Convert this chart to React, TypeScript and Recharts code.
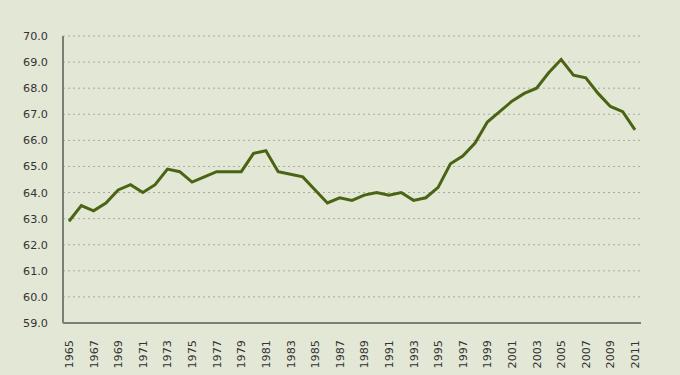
import React from "react";
import { LineChart, Line, XAxis, YAxis, CartesianGrid } from "recharts";

const years: number[] = [
  1965, 1966, 1967, 1968, 1969, 1970, 1971, 1972, 1973, 1974, 1975, 1976,
  1977, 1978, 1979, 1980, 1981, 1982, 1983, 1984, 1985, 1986, 1987, 1988,
  1989, 1990, 1991, 1992, 1993, 1994, 1995, 1996, 1997, 1998, 1999, 2000,
  2001, 2002, 2003, 2004, 2005, 2006, 2007, 2008, 2009, 2010, 2011,
];
const values: number[] = [
  62.9, 63.5, 63.3, 63.6, 64.1, 64.3, 64.0, 64.3, 64.9, 64.8, 64.4, 64.6,
  64.8, 64.8, 64.8, 65.5, 65.6, 64.8, 64.7, 64.6, 64.1, 63.6, 63.8, 63.7,
  63.9, 64.0, 63.9, 64.0, 63.7, 63.8, 64.2, 65.1, 65.4, 65.9, 66.7, 67.1,
  67.5, 67.8, 68.0, 68.6, 69.1, 68.5, 68.4, 67.8, 67.3, 67.1, 66.4,
];
const yTicks: number[] = [59, 60, 61, 62, 63, 64, 65, 66, 67, 68, 69, 70];

const data = years.map((y, i) => ({ year: String(y), value: values[i] }));

const FONT = "'DejaVu Sans', sans-serif";
const FS = 11.2;

const XTick = (props: any) => {
  const { x, y, payload } = props;
  const ax = x;
  const ay = y + 9;
  return (
    <text
      x={ax}
      y={ay}
      dy="0.36em"
      transform={`rotate(-90, ${ax}, ${ay})`}
      textAnchor="end"
      fontSize={FS}
      fontFamily={FONT}
      fill="#333333"
    >
      {payload.value}
    </text>
  );
};

export default function App() {
  return (
    <div
      style={{
        position: "absolute",
        left: 0,
        top: 0,
        width: 680,
        height: 375,
        background: "#e3e7d5",
      }}
    >
      <LineChart
        width={680}
        height={375}
        data={data}
        margin={{ top: 36, right: 39, bottom: 0, left: 0 }}
      >
        <CartesianGrid
          horizontal={true}
          vertical={false}
          stroke="#a9aaa2"
          strokeDasharray="2 3"
          strokeWidth={1}
        />
        <XAxis
          dataKey="year"
          height={52}
          interval={1}
          tickLine={false}
          axisLine={{ stroke: "#7c7e76", strokeWidth: 2 }}
          padding={{ left: 6, right: 6 }}
          tick={<XTick />}
        />
        <YAxis
          width={63}
          domain={[59, 70]}
          ticks={yTicks}
          interval={0}
          tickLine={false}
          axisLine={{ stroke: "#7c7e76", strokeWidth: 2 }}
          tickFormatter={(v: number) => v.toFixed(1)}
          tickMargin={9}
          tick={{ fontSize: FS, fontFamily: FONT, fill: "#333333" }}
        />
        <Line
          type="linear"
          dataKey="value"
          stroke="#4a6414"
          strokeWidth={3}
          dot={false}
          isAnimationActive={false}
        />
      </LineChart>
    </div>
  );
}
